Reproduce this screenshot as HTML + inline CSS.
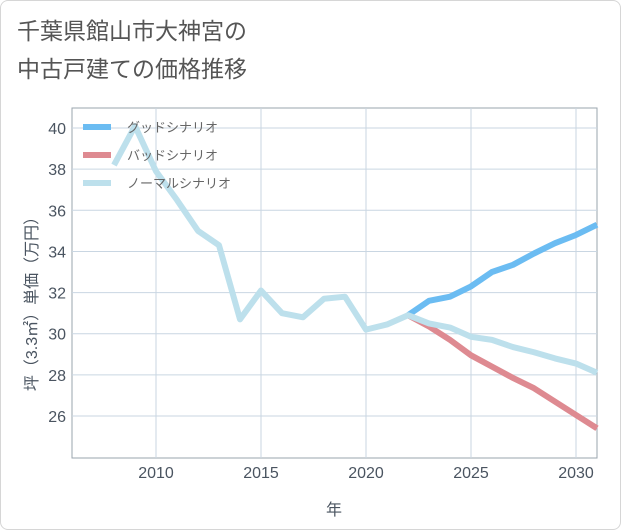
<!DOCTYPE html>
<html><head><meta charset="utf-8"><style>
body{margin:0;background:#fff;}
#wrap{width:621px;height:530px;position:relative;font-family:"Liberation Sans","Noto Sans CJK JP",sans-serif;}
#card{position:absolute;left:0;top:0;width:619px;height:528px;border:1px solid #d6d6d6;border-radius:8px;}
svg{position:absolute;left:0;top:0;}
</style></head><body>
<div id="wrap">
<div id="card"></div>
<svg id="chart" width="621" height="530"></svg>
</div>
<script>
const years=[2006,2007,2008,2009,2010,2011,2012,2013,2014,2015,2016,2017,2018,2019,2020,2021,2022,2023,2024,2025,2026,2027,2028,2029,2030,2031];
const normalYears=[2008,2009,2010,2011,2012,2013,2014,2015,2016,2017,2018,2019,2020,2021,2022,2023,2024,2025,2026,2027,2028,2029,2030,2031];
const normalVals=[38.2,40.1,37.9,36.5,35.0,34.3,30.7,32.1,31.0,30.8,31.7,31.8,30.2,30.45,30.9,30.5,30.3,29.85,29.7,29.35,29.1,28.8,28.55,28.1];
const scenYears=[2022,2023,2024,2025,2026,2027,2028,2029,2030,2031];
const goodVals=[30.9,31.6,31.8,32.3,33.0,33.35,33.9,34.4,34.8,35.3];
const badVals=[30.9,30.35,29.7,28.95,28.4,27.85,27.35,26.7,26.05,25.4];
const xTicks=[2010,2015,2020,2025,2030];
const yTicks=[26,28,30,32,34,36,38,40];
const L=72,R=597,T=108,B=458;
const X=v=>L+(v-2006)*(R-L)/25;
const Y=v=>416-(v-26)*20.57;
const NS="http://www.w3.org/2000/svg";
const svg=document.getElementById('chart');
function mk(t,a,p){const e=document.createElementNS(NS,t);for(const k in a)e.setAttribute(k,a[k]);(p||svg).appendChild(e);return e;}
function txt(s,a){const e=mk('text',a);e.textContent=s;return e;}
const t1=txt('千葉県館山市大神宮の',{x:17,y:39,'font-size':23,fill:'#555'});


const t2=txt('中古戸建ての価格推移',{x:17,y:77,'font-size':23,fill:'#555'});


mk('rect',{x:L,y:T,width:R-L,height:B-T,fill:'#fff',stroke:'#9aa4ae','stroke-width':1});
for(const v of yTicks){
 const g=mk('line',{x1:L,x2:R,y1:Y(v),y2:Y(v),stroke:'#c9d6e2','stroke-width':1});
 
 
 const t=txt(String(v),{x:L-6,y:Y(v)+6,'text-anchor':'end','font-size':16,fill:'#4a5460'});
 
 
}
for(const v of xTicks){
 const g=mk('line',{x1:X(v),x2:X(v),y1:T,y2:B,stroke:'#c9d6e2','stroke-width':1});
 
 
 const t=txt(String(v),{x:X(v),y:478,'text-anchor':'middle','font-size':16,fill:'#4a5460'});
 
 
}
const xt=txt('年',{x:334,y:515,'text-anchor':'middle','font-size':16,fill:'#4a5460'});


const yt=txt('坪（3.3㎡）単価（万円）',{x:0,y:0,'text-anchor':'middle','font-size':16,fill:'#4a5460',transform:'translate(37,300) rotate(-90)'});


function line(xs,vs,c,name){
 const p=mk('polyline',{points:xs.map((x,i)=>X(x)+','+Y(vs[i])).join(' '),fill:'none',stroke:c,'stroke-width':6,'stroke-linejoin':'round'});
 
 
}
line(scenYears,goodVals,'#6bbcf2','good-scenario-line');
line(scenYears,badVals,'#de8a91','bad-scenario-line');
line(normalYears,normalVals,'#bde0ec','normal-scenario-line');
const leg=[['グッドシナリオ','#6bbcf2'],['バッドシナリオ','#de8a91'],['ノーマルシナリオ','#bde0ec']];
leg.forEach((l,i)=>{
 const y=127+i*28;
 const s=mk('line',{x1:83,x2:111,y1:y,y2:y,stroke:l[1],'stroke-width':6});
 
 
 const t=txt(l[0],{x:127,y:y+5,'font-size':13,fill:'#666'});
 
 
});
</script>
</body></html>
